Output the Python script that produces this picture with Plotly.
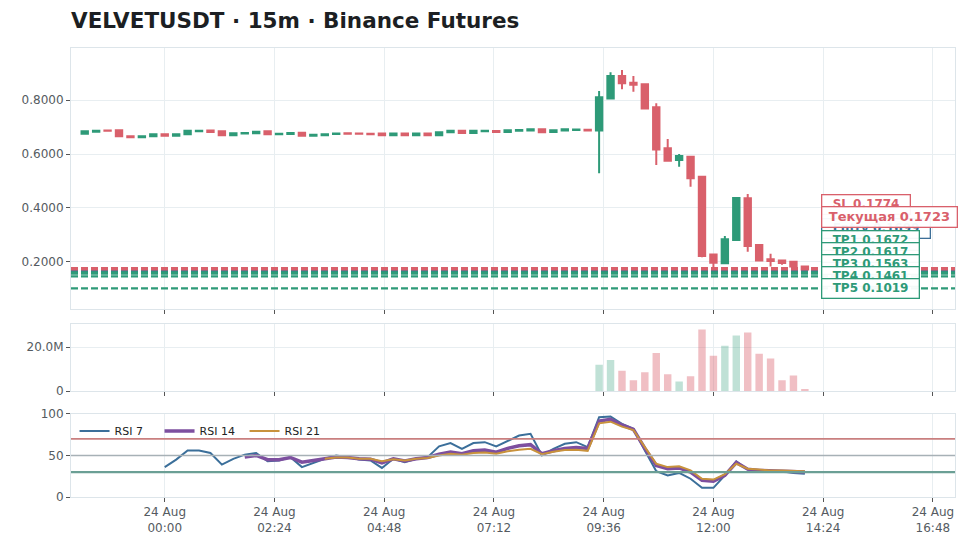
import pandas as pd
import plotly.graph_objects as go
from plotly.subplots import make_subplots

# ---- data (15m candles, 23 Aug 22:15 -> 24 Aug 14:00) ----
start_time = "2025-08-23 22:15"
n_candles = 64

opens = [0.675, 0.683, 0.687, 0.688, 0.666, 0.662, 0.666, 0.673, 0.668, 0.673,
         0.684, 0.687, 0.684, 0.670, 0.676, 0.677, 0.684, 0.673, 0.674, 0.679,
         0.668, 0.670, 0.674, 0.677, 0.676, 0.675, 0.676, 0.670, 0.676, 0.670,
         0.676, 0.670, 0.681, 0.686, 0.678, 0.684, 0.685, 0.682, 0.686, 0.687,
         0.692, 0.682, 0.687, 0.689, 0.690, 0.687, 0.806, 0.889, 0.864, 0.859,
         0.773, 0.621, 0.578, 0.590, 0.516, 0.228, 0.195, 0.281, 0.436, 0.263,
         0.210, 0.205, 0.201, 0.183]
highs = [0.687, 0.688, 0.690, 0.689, 0.668, 0.668, 0.675, 0.675, 0.675, 0.688,
         0.690, 0.689, 0.686, 0.679, 0.679, 0.685, 0.685, 0.679, 0.680, 0.680,
         0.672, 0.675, 0.677, 0.678, 0.680, 0.677, 0.677, 0.677, 0.677, 0.677,
         0.677, 0.682, 0.687, 0.688, 0.687, 0.687, 0.686, 0.689, 0.690, 0.693,
         0.693, 0.689, 0.693, 0.692, 0.691, 0.834, 0.903, 0.911, 0.889, 0.862,
         0.788, 0.656, 0.600, 0.591, 0.517, 0.230, 0.296, 0.441, 0.452, 0.264,
         0.230, 0.207, 0.203, 0.186]
lows = [0.673, 0.681, 0.684, 0.664, 0.660, 0.660, 0.665, 0.667, 0.667, 0.672,
        0.681, 0.681, 0.667, 0.669, 0.675, 0.676, 0.672, 0.670, 0.673, 0.667,
        0.667, 0.669, 0.673, 0.674, 0.672, 0.672, 0.669, 0.669, 0.669, 0.669,
        0.669, 0.669, 0.680, 0.677, 0.677, 0.683, 0.681, 0.681, 0.685, 0.686,
        0.680, 0.681, 0.686, 0.688, 0.686, 0.529, 0.804, 0.840, 0.831, 0.768,
        0.559, 0.573, 0.553, 0.479, 0.217, 0.178, 0.193, 0.279, 0.238, 0.203,
        0.183, 0.190, 0.178, 0.170]
closes = [0.684, 0.686, 0.686, 0.666, 0.662, 0.666, 0.673, 0.668, 0.673, 0.686,
          0.686, 0.682, 0.670, 0.677, 0.678, 0.683, 0.673, 0.675, 0.678, 0.668,
          0.671, 0.673, 0.676, 0.675, 0.675, 0.673, 0.670, 0.676, 0.670, 0.676,
          0.670, 0.681, 0.686, 0.678, 0.686, 0.686, 0.682, 0.688, 0.689, 0.692,
          0.681, 0.688, 0.692, 0.691, 0.687, 0.810, 0.889, 0.862, 0.857, 0.769,
          0.617, 0.575, 0.593, 0.510, 0.222, 0.197, 0.284, 0.437, 0.259, 0.205,
          0.203, 0.196, 0.183, 0.1723]
volumes = [0.02e6, 0.01e6, 0.01e6, 0.03e6, 0.02e6, 0.01e6, 0.02e6, 0.01e6, 0.01e6, 0.02e6,
           0.01e6, 0.01e6, 0.02e6, 0.01e6, 0.01e6, 0.01e6, 0.02e6, 0.01e6, 0.01e6, 0.02e6,
           0.01e6, 0.01e6, 0.01e6, 0.01e6, 0.01e6, 0.01e6, 0.01e6, 0.01e6, 0.01e6, 0.01e6,
           0.01e6, 0.02e6, 0.02e6, 0.01e6, 0.01e6, 0.01e6, 0.01e6, 0.01e6, 0.01e6, 0.01e6,
           0.02e6, 0.01e6, 0.01e6, 0.01e6, 0.01e6,
           12.0e6, 14.2e6, 9.3e6, 4.9e6, 8.6e6, 17.3e6, 7.6e6, 4.4e6, 6.7e6,
           28.0e6, 16.1e6, 20.6e6, 25.3e6, 26.7e6, 17.0e6, 14.8e6, 4.9e6,
           7.1e6, 0.9e6]

rsi7 = [36, 45, 56, 56, 53, 39, 46, 51, 53, 43, 44, 48, 36, 41, 46, 50, 48, 45, 44, 35,
        46, 42, 46, 48, 61, 65, 58, 65, 66, 61, 68, 74, 76, 50, 58, 64, 66, 60, 96, 97,
        88, 82, 56, 31, 26, 29, 22, 11, 11, 26, 43, 33, 31, 31, 31, 29, 28]
rsi14 = [48, 50, 45, 45, 47.6, 42, 44, 46, 48, 47.6, 46, 45.5, 41,
         46, 43.5, 46, 47.6, 51.6, 54, 52, 55.6, 56.5, 54, 58.5, 61.7, 63, 52, 55.6,
         58.5, 59.7, 58.5, 91.5, 93.5, 86.7, 81.5, 58.5, 38, 34, 35, 30, 20, 19, 26,
         41.5, 33.5, 32, 31.5, 31, 31, 30]
rsi21 = [46, 47.6, 47.6, 46, 46, 43,
         45.5, 44, 46, 47, 50, 52, 51, 53, 53.6, 52, 55, 57, 58, 51.6, 54.4, 56.5, 57,
         55.6, 88.7, 90.7, 84.7, 80.6, 60, 40, 36, 37, 32, 22, 21, 27.4, 40, 34, 33, 32,
         32, 31.5, 31]

level_names = ["SL", "Текущая", "Entry", "TP1", "TP2", "TP3", "TP4", "TP5"]
level_values = [0.1774, 0.1723, 0.1699, 0.1672, 0.1617, 0.1563, 0.1461, 0.1019]

rsi_levels = [70, 50, 30]
vol_tickvals = [0, 20e6]
vol_ticktext = ["0", "20.0M"]
x_tick_start = "2025-08-24 00:00"

# ---- styling ----
GREEN = "#2e9a78"
RED = "#d9606b"
BLUE = "#3d6f98"
GRID = "#e8eef1"
FRAME = "#dde5ea"
TXT = "#555b61"
FONT = "DejaVu Sans"

level_colors = {"SL": RED, "Текущая": RED, "Entry": BLUE}

times = pd.date_range(start_time, periods=n_candles, freq="15min")


def pad(values):
    return [None] * (len(times) - len(values)) + list(values)


fig = make_subplots(rows=3, cols=1, shared_xaxes=True)

fig.add_trace(go.Candlestick(
    x=times, open=opens, high=highs, low=lows, close=closes,
    increasing=dict(line=dict(color=GREEN, width=2), fillcolor=GREEN),
    decreasing=dict(line=dict(color=RED, width=2), fillcolor=RED),
    showlegend=False, hoverinfo="skip",
), row=1, col=1)

vol_colors = ["rgba(46,154,120,0.3)" if c >= o else "rgba(217,96,107,0.4)"
              for o, c in zip(opens, closes)]
fig.add_trace(go.Bar(x=times, y=volumes, marker=dict(color=vol_colors, line_width=0),
                     showlegend=False), row=2, col=1)

for name, vals, color, width in [("RSI 7", rsi7, "#3b6f9a", 2),
                                 ("RSI 14", rsi14, "#7d4f9f", 3.5),
                                 ("RSI 21", rsi21, "#c8923c", 2)]:
    fig.add_trace(go.Scatter(x=times, y=pad(vals), mode="lines", name=name,
                             line=dict(color=color, width=width)), row=3, col=1)

for lvl, color, width in zip(rsi_levels, ["#c97f7f", "#a7b1b6", "#6b9f95"], [1.6, 1.4, 2.2]):
    fig.add_hline(y=lvl, line=dict(color=color, width=width), row=3, col=1)

# dashed trade levels across the price panel
for name, val in sorted(zip(level_names, level_values), key=lambda p: p[1]):
    color = level_colors.get(name, GREEN)
    fig.add_hline(y=val, line=dict(color=color, width=2.2, dash="7px,3px"),
                  row=1, col=1)

# labels stacked upward so they do not sit on each other
label_gap = 0.0444
stacked = {}
prev = None
for name, val in sorted(zip(level_names, level_values), key=lambda p: p[1]):
    y = val if prev is None else max(val, prev + label_gap)
    stacked[name] = y
    prev = y

draw_order = ["SL", "Entry", "TP1", "TP2", "TP3", "TP4", "TP5", "Текущая"]
nb = "\u00a0"
for name in draw_order:
    val = level_values[level_names.index(name)]
    color = level_colors.get(name, GREEN)
    big = name == "Текущая"
    fig.add_annotation(
        x=times[-1], y=stacked[name], xref="x", yref="y",
        text=f"{nb}{name} {val:.4f}{nb}" if big else f"{nb}{nb}{name} {val:.4f}{nb}{nb}",
        showarrow=False, xanchor="left", yanchor="middle", xshift=16,
        font=dict(family=FONT, size=13 if big else 12, color=color, weight="bold"),
        bgcolor="rgba(255,255,255,0.95)", bordercolor=color, borderwidth=1.3,
        borderpad=2,
    )

axis_common = dict(showline=True, mirror=True, linecolor=FRAME, gridcolor=GRID,
                   ticks="outside", tickcolor="#555", ticklen=4, zeroline=False,
                   tickfont=dict(family=FONT, size=12, color=TXT))

fig.update_xaxes(**axis_common, range=["2025-08-23 21:57", "2025-08-24 17:17"],
                 tick0=x_tick_start, dtick=144 * 60 * 1000, tickformat="%d %b<br>%H:%M",
                 rangeslider_visible=False)
fig.update_xaxes(showticklabels=False, row=1, col=1)
fig.update_xaxes(showticklabels=False, row=2, col=1)
fig.update_yaxes(**axis_common)

# the page body keeps its default 8px margin, so the figure is 8px smaller
fig.update_layout(
    width=963, height=540,
    margin=dict(l=63, r=16, t=40, b=51),
    paper_bgcolor="white", plot_bgcolor="white",
    font=dict(family=FONT, color=TXT),
    title=dict(text="VELVETUSDT · 15m · Binance Futures", x=0, xref="paper",
               xanchor="left", y=1 - 12 / 540, yref="container", yanchor="middle",
               font=dict(family=FONT, size=21.5, color="#1c1f23", weight="bold")),
    yaxis=dict(domain=[0.419, 1.0], range=[0.026, 0.993], tick0=0, dtick=0.2,
               tickformat=".4f"),
    yaxis2=dict(domain=[0.236, 0.385], range=[0, 30.5e6], tickvals=vol_tickvals,
                ticktext=vol_ticktext),
    yaxis3=dict(domain=[0.0, 0.185], range=[0, 100], tickvals=[0, 50, 100]),
    bargap=0.35,
    boxgap=0.2,
    legend=dict(orientation="h", x=0.004, y=0.147, xanchor="left", yanchor="middle",
                bgcolor="rgba(0,0,0,0)", font=dict(family=FONT, size=11, color="#222"),
                entrywidth=40, entrywidthmode="pixels", itemwidth=30),
    hovermode=False,
)

fig.write_html("out.html")
